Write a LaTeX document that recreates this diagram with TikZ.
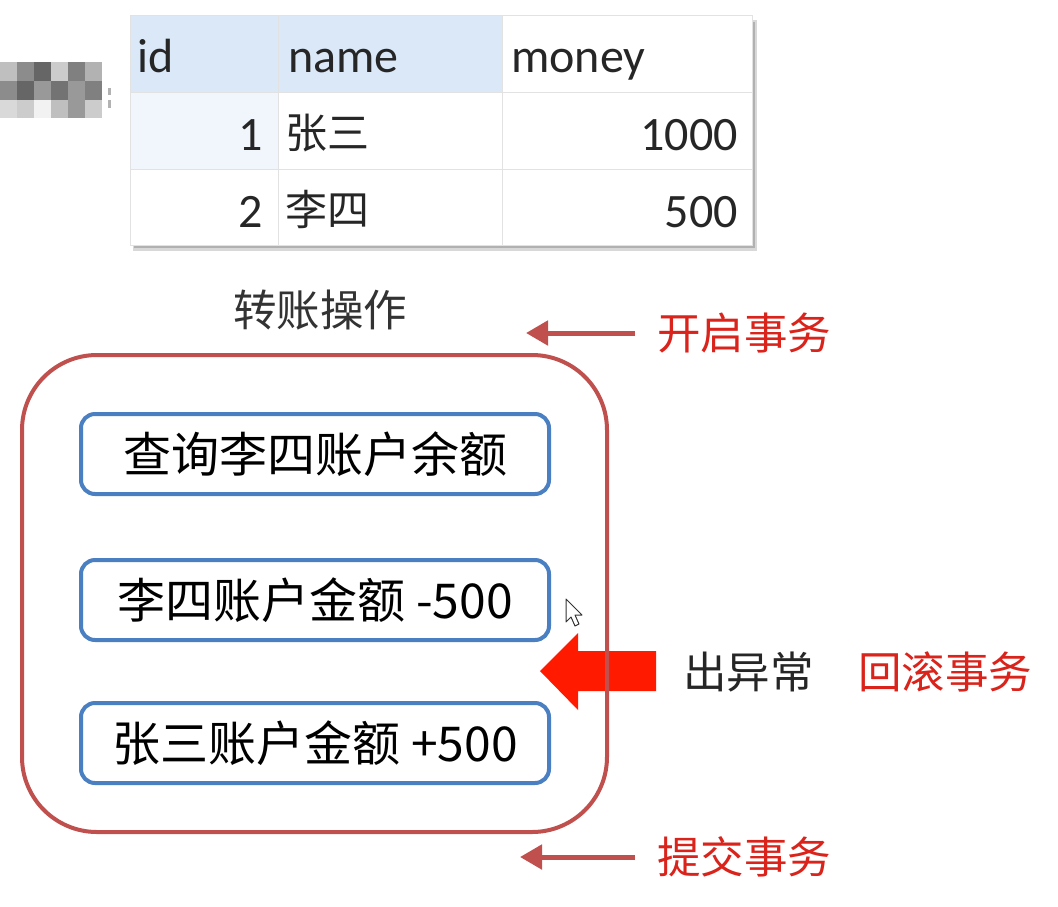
\documentclass[tikz,border=0pt]{standalone}
\usepackage{fontspec}
\setmainfont{Carlito}
\newfontfamily\cjk{Noto Sans CJK SC}
\usetikzlibrary{shadows,arrows.meta}
\definecolor{frame}{HTML}{C0504D}
\definecolor{boxblue}{HTML}{4A7FC1}
\definecolor{redtxt}{HTML}{D9231B}
\definecolor{hdr}{HTML}{DAE8F8}
\definecolor{grid}{HTML}{E2E2E2}
\definecolor{bigred}{HTML}{FF1A00}
\tikzset{
  cell/.style={draw=grid, line width=1pt, minimum height=77pt, inner sep=0pt, anchor=north west},
  stepbox/.style={draw=boxblue, line width=4pt, rounded corners=14pt, minimum width=468pt, minimum height=80pt, font=\cjk\fontsize{48}{54}\selectfont, inner sep=0pt},
  lbl/.style={font=\cjk\fontsize{43.5}{50}\selectfont, inner sep=0pt},
  redlbl/.style={lbl, text=redtxt},
  thinarrow/.style={draw=frame, line width=5pt, -{Triangle[length=22pt,width=24pt]}},
  tabtxt/.style={font=\fontsize{48}{50}\selectfont, inner sep=0pt, text=black!85},
  tabcjk/.style={font=\cjk\fontsize{42}{50}\selectfont, inner sep=0pt, text=black!85},
}
\begin{document}
\begin{tikzpicture}[x=1pt,y=-1pt]
\useasboundingbox (0,0) rectangle (1058,906);
\fill[white] (0,0) rectangle (1058,906);
% mosaic
\foreach \c [count=\i from 0] in {25,45,60,20,50,30}{\fill[black!\c] (\i*17,62) rectangle ++(17,19);}
\foreach \c [count=\i from 0] in {45,60,40,55,40,50}{\fill[black!\c] (\i*17,81) rectangle ++(17,19);}
\foreach \c [count=\i from 0] in {15,20,5,25,40,20}{\fill[black!\c] (\i*17,100) rectangle ++(17,18);}
\fill[black!30] (108,88) rectangle (111,95);
\fill[black!30] (108,100) rectangle (111,108);
% table shadow
\fill[black!25, opacity=0.6] (133,20) rectangle (757,251);
\fill[black!45, opacity=0.5] (134,22) rectangle (755,248);
% table
\node[cell, fill=hdr, minimum width=148pt] (h1) at (130,15) {};
\node[cell, fill=hdr, minimum width=224pt] (h2) at (278,15) {};
\node[cell, fill=white, minimum width=250pt] (h3) at (502,15) {};
\node[cell, fill=hdr!40, minimum width=148pt] (a1) at (130,92) {};
\node[cell, fill=white, minimum width=224pt] (a2) at (278,92) {};
\node[cell, fill=white, minimum width=250pt] (a3) at (502,92) {};
\node[cell, fill=white, minimum width=148pt, minimum height=76pt] (b1) at (130,169) {};
\node[cell, fill=white, minimum width=224pt, minimum height=76pt] (b2) at (278,169) {};
\node[cell, fill=white, minimum width=250pt, minimum height=76pt] (b3) at (502,169) {};
\node[tabtxt, anchor=base west] (tid) at (137,72) {id};
\node[tabtxt, anchor=base west] (tname) at (288,72) {name};
\node[tabtxt, anchor=base west] (tmoney) at (511,72) {money};
\node[tabtxt, anchor=base east] (n1) at (263,150) {1};
\node[tabcjk, anchor=base west] (z1) at (285,148) {张三};
\node[tabtxt, anchor=base east] (m1) at (738,150) {1000};
\node[tabtxt, anchor=base east] (n2) at (263,227) {2};
\node[tabcjk, anchor=base west] (z2) at (285,225) {李四};
\node[tabtxt, anchor=base east] (m2) at (738,227) {500};
% title
\node[lbl, text=black!80] (title) at (320,310) {转账操作};
% big red arrow
\fill[bigred] (656,651) -- (578,651) -- (578,633) -- (540,671) -- (578,710) -- (578,691) -- (656,691) -- cycle;
% frame
\node[draw=frame, line width=4pt, rounded corners=75pt, minimum width=585pt, minimum height=477pt, inner sep=0pt] (frm) at (314.5,593.5) {};
% steps
\node[stepbox] (s1) at (315,454) {查询李四账户余额};
\node[stepbox] (s2) at (315,600) {李四账户金额 -500};
\node[stepbox] (s3) at (315,743) {张三账户金额 +500};
% labels and arrows
\node[redlbl, anchor=west] (open) at (657,333) {开启事务};
\coordinate (openend) at (526,333);
\draw[thinarrow] (open.west) ++(-22,0) -- (openend);
\node[redlbl, anchor=west] (commit) at (657,857) {提交事务};
\coordinate (commitend) at (520,857);
\draw[thinarrow] (commit.west) ++(-22,0) -- (commitend);
\node[lbl, text=black!85, anchor=west] (exc) at (683,672) {出异常};
\node[redlbl, anchor=west] (rollback) at (858,672) {回滚事务};
% cursor
\draw[black!80, fill=white, line width=1pt, line join=round] (566,599) -- (566,622) -- (571,617) -- (575,626) -- (579,624) -- (575,615) -- (582,615) -- cycle;
\end{tikzpicture}
\end{document}
